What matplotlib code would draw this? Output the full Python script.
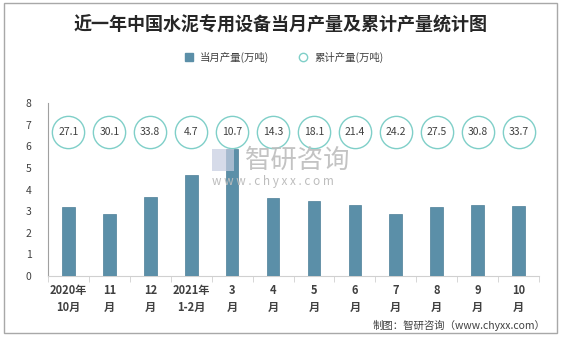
import matplotlib
matplotlib.use("Agg")
import matplotlib.pyplot as plt
from matplotlib.lines import Line2D
from matplotlib.patches import Rectangle
import numpy as np

plt.rcParams['font.family'] = ['Noto Sans CJK SC', 'DejaVu Sans']

# data
months = ['2020年\n10月', '11\n月', '12\n月', '2021年\n1-2月', '3\n月', '4\n月',
          '5\n月', '6\n月', '7\n月', '8\n月', '9\n月', '10\n月']
monthly = [3.17, 2.87, 3.64, 4.69, 5.87, 3.59, 3.45, 3.30, 2.87, 3.20, 3.30, 3.24]
cumulative = [27.1, 30.1, 33.8, 4.7, 10.7, 14.3, 18.1, 21.4, 24.2, 27.5, 30.8, 33.7]

bar_color = '#5b8fa8'
ring_color = '#7fcfc8'
text_color = '#404040'

fig = plt.figure(figsize=(5.62, 3.37), dpi=100)
ax = fig.add_axes([48 / 562, 1 - 276 / 337, 491 / 562, 173 / 337])

x = np.arange(len(months))
ax.bar(x, monthly, width=0.31, color=bar_color, edgecolor='#4d7f97', linewidth=0.5, zorder=3)

# cumulative values shown as rings at a fixed height
ring_y = 6.65
ax.scatter(x, [ring_y] * len(x), s=540, facecolor='white', edgecolor=ring_color, linewidth=1.0, zorder=4)
for xi, v in zip(x, cumulative):
    ax.text(xi, ring_y, f'{v}', ha='center', va='center', fontsize=7.5, color=text_color, zorder=5)

ax.set_xlim(-0.5, len(x) - 0.5)
ax.set_ylim(0, 8)
ax.set_yticks(range(0, 9))
ax.tick_params(axis='y', length=0, labelsize=7.5, labelcolor=text_color, pad=12)
ax.set_xticks(x)
ax.set_xticklabels(months, fontsize=8, fontweight='bold', color=text_color, linespacing=1.4)
ax.set_xticks(np.arange(-0.5, len(x)), minor=True)
ax.tick_params(axis='x', which='major', length=0, pad=6)
ax.tick_params(axis='x', which='minor', length=4, color='#d0d0d0', direction='out')
for s in ['top', 'right']:
    ax.spines[s].set_visible(False)
ax.spines['left'].set_color('#a0a0a0')
ax.spines['bottom'].set_color('#d0d0d0')

# watermark
fig.text(245 / 562, 1 - 160 / 337, '智研咨询', fontsize=19, color='#bdbdbd', alpha=0.9, va='center', zorder=1)
fig.text(212 / 562, 1 - 182 / 337, 'w w w . c h y x x . c o m', fontsize=8.5, color='#bdbdbd', va='center')
fig.patches.append(Rectangle((212 / 562, 1 - 171 / 337), 22 / 562, 22 / 337, transform=fig.transFigure,
                             facecolor='#c5cde0', edgecolor='none', alpha=0.7))

# title and legend
fig.text(0.5, 1 - 25 / 337, '近一年中国水泥专用设备当月产量及累计产量统计图', ha='center', va='center',
         fontsize=13, fontweight='bold', color='#262626')
handles = [Line2D([], [], marker='s', linestyle='', color=bar_color, markersize=6),
           Line2D([], [], marker='o', linestyle='', markerfacecolor='white', markeredgecolor=ring_color,
                  markersize=6)]
fig.legend(handles, ['当月产量(万吨)', '累计产量(万吨)'], loc='center', bbox_to_anchor=(0.5, 1 - 57 / 337),
           ncol=2, frameon=False, fontsize=7.5, handletextpad=0.1, columnspacing=2.2, labelcolor=text_color)

fig.text(545 / 562, 1 - 325 / 337, '制图：智研咨询（www.chyxx.com）', ha='right', va='center',
         fontsize=7.5, color=text_color)

# outer border
fig.patches.append(Rectangle((4 / 562, 4 / 337), 553 / 562, 330 / 337, transform=fig.transFigure,
                             facecolor='none', edgecolor='#a8a8a8', linewidth=1.0))

fig.savefig('out.png', dpi=100)
